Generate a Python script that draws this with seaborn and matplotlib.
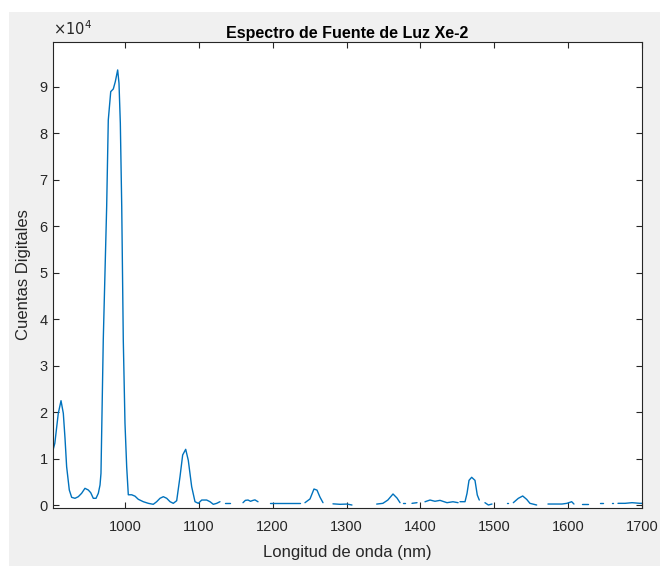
import numpy as np
import pandas as pd
import matplotlib
matplotlib.use("Agg")
import matplotlib.pyplot as plt
import seaborn as sns
from matplotlib.patches import Rectangle
from matplotlib.ticker import FuncFormatter

nan = np.nan

# longitud de onda (nm) y cuentas, NaN = hueco en la curva
longitud = [
    902, 905, 909.7, 913.4, 916.5, 918.8, 921, 924.6, 927.8, 932.3, 936.8, 941.3,
    945.8, 950.3, 953.6, 957.1, 960.8, 963.9, 966.2, 967.5, 970.6, 975.2, 977.4,
    980.7, 984.2, 986.9, 990.1, 991.9, 993.7, 995.6, 997.7, 1000.0, 1002.3, 1004.5,
    1009.1, 1013.6, 1018.0, 1024.8, 1031.6, 1038.3, 1042.9, 1047.4, 1051.9, 1056.5,
    1061.0, 1065.4, 1070.0, 1074.5, 1078.1, 1082.2, 1085.7, 1090.3, 1094.8, 1099.3,
    1103.9, 1110.6, 1115.1, 1119.6, 1124.2, 1128.6, nan,
    1135.4, 1142.2, nan,
    1159.8, 1163.0, 1166.6, 1170.0, 1173.4, 1176.0, 1180.1, nan,
    1196.3, 1209.9, 1223.4, 1236.9, nan,
    1243.7, 1250.5, 1255.9, 1260.0, 1264.0, 1268.1, nan,
    1281.6, 1291.1, 1300.6, 1307.3, nan,
    1340.8, 1349.2, 1355.9, 1362.9, 1368.3, 1372.4, nan,
    1377.1, 1378.5, nan,
    1388.6, 1395.4, nan,
    1406.2, 1413.0, 1419.7, 1426.5, 1436.0, 1444.1, 1451.0, nan,
    1453.6, 1460.4, 1463.1, 1465.8, 1469.4, 1473.9, 1477.0, 1479.7, nan,
    1487.4, 1492.0, 1496.9, nan,
    1516.8, 1518.0, nan,
    1525.8, 1532.5, 1538.5, 1543.9, 1548.3, 1557.4, nan,
    1572.7, 1582.2, 1591.7, 1598.4, 1604.8, 1607.9, nan,
    1618.7, 1626.9, nan,
    1643.1, 1647.2, nan,
    1659.0, 1660.5, nan,
    1667.5, 1677.0, 1686.5, 1697.3, 1700.0,
]
cuentas = [
    11470, 13270, 19730, 22440, 19730, 14350, 8240, 3230, 1650, 1440, 1790, 2520,
    3590, 3230, 2650, 1440, 1440, 2520, 4300, 6820, 35500, 64180, 82830,
    88920, 89500, 91070, 93590, 90720, 82120, 64180, 35500, 17580, 8240, 2200,
    2200, 1900, 1230, 710, 360, 150, 710, 1440, 1790, 1440,
    710, 360, 925, 6090, 10760, 11980, 9630, 3940, 710, 360,
    1070, 1070, 710, 150, 360, 710, nan,
    360, 360, nan,
    500, 1000, 1070, 800, 1000, 1100, 700, nan,
    500, 500, 500, 500, nan,
    500, 1300, 3440, 3200, 1700, 500, nan,
    250, 150, 200, 0, nan,
    200, 360, 1070, 2370, 1500, 500, nan,
    360, 360, nan,
    360, 500, nan,
    700, 1070, 800, 1000, 500, 700, 500, nan,
    710, 710, 2500, 5300, 5960, 5300, 2150, 1070, nan,
    500, 0, 210, nan,
    360, 360, nan,
    500, 1430, 1940, 1210, 360, 0, nan,
    210, 210, 210, 360, 710, 210, nan,
    210, 210, nan,
    360, 360, nan,
    360, 360, nan,
    360, 360, 500, 360, 360,
]

df = pd.DataFrame({"longitud": longitud, "cuentas": cuentas})
df["seg"] = df["longitud"].isna().cumsum()
df = df.dropna()

sns.set_style("ticks")
plt.rcParams["font.family"] = ["Liberation Sans", "DejaVu Sans"]

gris = "#262626"
fig = plt.figure(figsize=(6.6, 5.66), dpi=100, facecolor="white")
fig.patches.append(Rectangle((9 / 660, 0), 1, 1 - 12 / 566, transform=fig.transFigure,
                             facecolor="#f0f0f0", edgecolor="none", zorder=-10))
ax = fig.add_axes([0.0797, 0.103, 0.893, 0.8228])
ax.set_facecolor("white")

sns.lineplot(data=df, x="longitud", y="cuentas", units="seg", estimator=None,
             sort=False, color="#0072BD", linewidth=1.0, ax=ax, legend=False)

ax.set_xlim(902, 1700)
ax.set_ylim(-580, 99600)
ax.set_xticks([1000, 1100, 1200, 1300, 1400, 1500, 1600, 1700])
ax.set_yticks(np.arange(0, 100000, 10000))
ax.yaxis.set_major_formatter(FuncFormatter(lambda v, p: f"{int(round(v / 1e4))}"))
ax.tick_params(direction="in", length=4, width=0.8, colors=gris, labelsize=10.5,
               top=True, right=True, labelcolor=gris)
ax.tick_params(axis="x", pad=9)
for s in ax.spines.values():
    s.set_color(gris)
    s.set_linewidth(0.8)

ax.set_title("Espectro de Fuente de Luz Xe-2", fontsize=11.5, fontweight="bold",
             color="black", pad=3)
ax.set_xlabel("Longitud de onda (nm)", fontsize=12, color=gris, labelpad=8)
ax.set_ylabel("Cuentas Digitales", fontsize=12, color=gris, labelpad=6)
ax.text(0.0, 1.008, r"$\times10^{4}$", transform=ax.transAxes, fontsize=10.5,
        color=gris, ha="left", va="bottom")

fig.savefig("out.png", dpi=100, facecolor=fig.get_facecolor())
